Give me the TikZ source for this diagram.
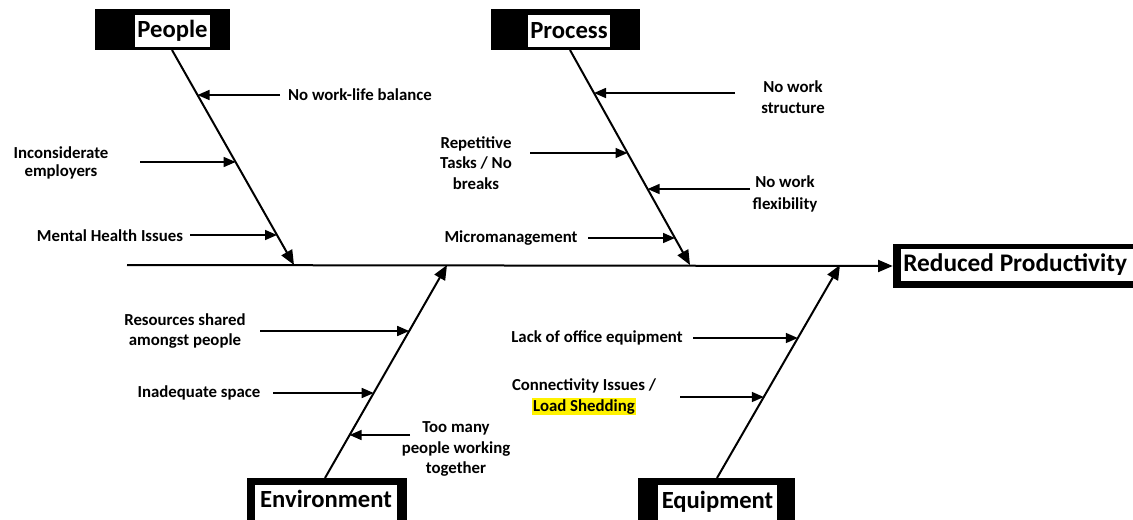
\documentclass[tikz,border=0pt]{standalone}
\usepackage{fontspec}
\setmainfont{Carlito}
\usetikzlibrary{arrows.meta,calc}
\begin{document}
\begin{tikzpicture}[x=0.75pt,y=-0.75pt,
  bone/.style={line width=1.5pt,-{Triangle[length=11pt,width=9pt]}},
  cause/.style={line width=1.2pt,-{Triangle[length=9pt,width=7.5pt]}},
  lbl/.style={font=\bfseries\fontsize{12.6}{15.5}\selectfont,align=center,inner sep=0pt,text=black},
  outerbox/.style={fill=black,inner sep=0pt},
  innerbox/.style={fill=white,inner sep=0pt,font=\bfseries\fontsize{18.5}{22}\selectfont}]
\useasboundingbox (0,0) rectangle (1133,519);
\fill[white] (0,0) rectangle (1133,519);

% category boxes: black frame with a white label panel
\node[outerbox,minimum width=101.25pt,minimum height=30.75pt] (peopleBox) at (162.5,29.5) {};
\node[innerbox,minimum width=56pt,minimum height=24pt] (people) at (172.5,31) {People};
\node[outerbox,minimum width=111.75pt,minimum height=30.75pt] (processBox) at (565.5,29.5) {};
\node[innerbox,minimum width=61.5pt,minimum height=24pt] (process) at (569,31) {Process};
\node[outerbox,minimum width=120pt,minimum height=33pt] (envBox) at (327,500) {};
\node[fill=white,inner sep=0pt,minimum width=106.5pt,minimum height=27.75pt] (envPanel) at (326,503.5) {};
\node[font=\bfseries\fontsize{18.5}{22}\selectfont,inner sep=0pt] (env) at (326,499) {Environment};
\node[outerbox,minimum width=117.75pt,minimum height=33pt] (equipBox) at (716.5,500) {};
\node[fill=white,inner sep=0pt,minimum width=89.25pt,minimum height=27.75pt] (equipPanel) at (717.5,503.5) {};
\node[font=\bfseries\fontsize{18.5}{22}\selectfont,inner sep=0pt,anchor=base] (equip) at (717.5,508) {Equipment};

% effect box
\node[outerbox,minimum width=185.25pt,minimum height=33pt] (effectBox) at (1016.5,266) {};
\node[fill=white,inner sep=0pt,minimum width=179.25pt,minimum height=24pt] (effectPanel) at (1020.5,265) {};
\node[font=\bfseries\fontsize{19}{22}\selectfont,anchor=west,inner sep=0pt] (effect) at (903,265) {Reduced Productivity};

% spine
\coordinate (spineStart) at (127,265);
\draw[bone] (spineStart) -- (effectBox.west);

% bones
\coordinate (pTop) at (172,50);   \coordinate (pTip) at (294,265);
\coordinate (prTop) at (570,50);  \coordinate (prTip) at (690,265);
\coordinate (eBot) at (325,478);  \coordinate (eTip) at (447,265);
\coordinate (qBot) at (717,478);  \coordinate (qTip) at (840,265);
\draw[bone] (pTop) -- (pTip);
\draw[bone] (prTop) -- (prTip);
\draw[bone] (eBot) -- (eTip);
\draw[bone] (qBot) -- (qTip);

% cause labels
\node[lbl] (nwlb) at (360,95) {No work-life balance};
\node[lbl,font=\bfseries\fontsize{12.6}{13.5}\selectfont] (incons) at (61,163) {Inconsiderate\\employers};
\node[lbl] (mental) at (110,236) {Mental Health Issues};
\node[lbl] (nostruct) at (793,97) {No work\\structure};
\node[lbl] (repet) at (476,163) {Repetitive\\Tasks / No\\breaks};
\node[lbl,font=\bfseries\fontsize{12.6}{17}\selectfont] (noflex) at (785,194) {No work\\flexibility};
\node[lbl] (micro) at (511,238) {Micromanagement};
\node[lbl] (resources) at (185,331) {Resources shared\\amongst people};
\node[lbl] (inadequate) at (199,393) {Inadequate space};
\node[lbl] (toomany) at (456,449) {Too many\\people working\\together};
\node[lbl] (lack) at (597,338) {Lack of office equipment};
\node[lbl] (connect) at (584,397) {Connectivity Issues /\\{\setlength{\fboxsep}{1pt}\colorbox{yellow}{Load Shedding}}};

% cause arrows
\coordinate (t1) at (280,95);  \coordinate (h1) at (197.5,95);
\coordinate (t2) at (140,162); \coordinate (h2) at (235.6,162);
\coordinate (t3) at (190,235); \coordinate (h3) at (277,235);
\coordinate (t4) at (735,93);  \coordinate (h4) at (594,93);
\coordinate (t5) at (530,153); \coordinate (h5) at (627.5,153);
\coordinate (t6) at (750,189); \coordinate (h6) at (647.6,189);
\coordinate (t7) at (588,238); \coordinate (h7) at (675,238);
\coordinate (t8) at (260,331); \coordinate (h8) at (409.2,331);
\coordinate (t9) at (273,393); \coordinate (h9) at (373.7,393);
\coordinate (t10) at (410,435); \coordinate (h10) at (349.6,435);
\coordinate (t11) at (693,338); \coordinate (h11) at (797.8,338);
\coordinate (t12) at (680,397); \coordinate (h12) at (763.8,397);
\foreach \i in {1,...,12} \draw[cause] (t\i) -- (h\i);
\end{tikzpicture}
\end{document}
